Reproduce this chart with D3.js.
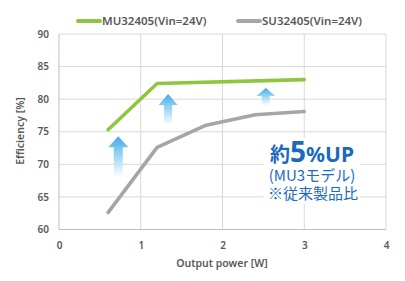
<!DOCTYPE html>
<meta charset="utf-8">
<style>
body { margin:0; background:#fff; font-family:"Noto Sans", sans-serif; }
.tick text { fill:#595959; font-size:10px; font-weight:600; }
.lbl { fill:#595959; font-weight:600; }
</style>
<body>
<script src="https://d3js.org/d3.v7.min.js"></script>
<script>
var xTicks = [0, 1, 2, 3, 4];
var yTicks = [60, 65, 70, 75, 80, 85, 90];
var muPower = [0.6, 1.2, 3];
var muEff = [75.3, 82.4, 83.0];
var suPower = [0.6, 1.2, 1.8, 2.4, 3];
var suEff = [62.6, 72.6, 76.0, 77.6, 78.1];
var seriesNames = ["MU32405(Vin=24V)", "SU32405(Vin=24V)"];
var seriesColors = ["#8dc63f", "#a6a6a6"];
// arrows: [x, from, to] in data units
var arrows = [[0.725, 68.0, 74.3], [1.335, 76.0, 80.8], [2.53, 79.0, 81.7]];

var W = 405, H = 281;
var svg = d3.select("body").append("svg").attr("width", W).attr("height", H);

var x = d3.scaleLinear().domain([0, 4]).range([59, 386]);
var y = d3.scaleLinear().domain([60, 90]).range([229.5, 34]);

// grid
svg.append("g").selectAll("line.h").data(yTicks).join("line")
  .attr("x1", x(0)).attr("x2", x(4))
  .attr("y1", d => y(d)).attr("y2", d => y(d))
  .attr("stroke", "#d9d9d9").attr("stroke-width", 1);
svg.append("g").selectAll("line.v").data(xTicks).join("line")
  .attr("x1", d => x(d)).attr("x2", d => x(d))
  .attr("y1", y(60)).attr("y2", y(90))
  .attr("stroke", d => d === 0 ? "#bfbfbf" : "#d9d9d9").attr("stroke-width", 1);
svg.append("line").attr("x1", x(0)).attr("x2", x(4)).attr("y1", y(60)).attr("y2", y(60))
  .attr("stroke", "#bfbfbf");

// axes (labels only)
var xa = svg.append("g").attr("transform", "translate(0," + (y(60) + 8) + ")")
  .call(d3.axisBottom(x).tickValues(xTicks).tickFormat(d3.format("d")).tickSize(0).tickPadding(4));
xa.select(".domain").remove();
var ya = svg.append("g").attr("transform", "translate(" + (x(0) - 10) + ",0)")
  .call(d3.axisLeft(y).tickValues(yTicks).tickSize(0).tickPadding(0));
ya.select(".domain").remove();
svg.selectAll(".tick text").attr("font-family", "'Noto Sans', sans-serif");

svg.append("text").attr("class", "lbl").attr("x", 222).attr("y", 267)
  .attr("text-anchor", "middle").attr("font-size", 10.5).text("Output power [W]");
svg.append("text").attr("class", "lbl")
  .attr("transform", "translate(24,131) rotate(-90)")
  .attr("text-anchor", "middle").attr("font-size", 10.5).text("Efficiency [%]");

// arrows
var defs = svg.append("defs");
arrows.forEach(function(a, i) {
  var cx = x(a[0]), top = y(a[2]), bot = y(a[1]);
  var len = bot - top;
  var hw = i === 0 ? 10 : 9.5, sw = i === 0 ? 4.5 : 4;
  var hh = Math.min(11, len * 0.45);
  var p = [[cx, top], [cx + hw, top + hh], [cx + sw, top + hh], [cx + sw, bot],
           [cx - sw, bot], [cx - sw, top + hh], [cx - hw, top + hh]];
  var g = defs.append("linearGradient").attr("id", "ag" + i)
    .attr("gradientUnits", "userSpaceOnUse")
    .attr("x1", 0).attr("y1", top).attr("x2", 0).attr("y2", bot);
  g.append("stop").attr("offset", "0%").attr("stop-color", "#3fa9e6");
  g.append("stop").attr("offset", "40%").attr("stop-color", "#8fd0f2");
  g.append("stop").attr("offset", "100%").attr("stop-color", "#ffffff");
  svg.append("path").attr("d", "M" + p.join("L") + "Z").attr("fill", "url(#ag" + i + ")");
});

// lines
var line = d3.line().x(d => x(d[0])).y(d => y(d[1]));
svg.append("path").datum(d3.zip(suPower, suEff)).attr("d", line)
  .attr("fill", "none").attr("stroke", seriesColors[1]).attr("stroke-width", 3.6)
  .attr("stroke-linecap", "round").attr("stroke-linejoin", "round");
svg.append("path").datum(d3.zip(muPower, muEff)).attr("d", line)
  .attr("fill", "none").attr("stroke", seriesColors[0]).attr("stroke-width", 3.6)
  .attr("stroke-linecap", "round").attr("stroke-linejoin", "round");

// legend
var lx = [78, 238];
seriesNames.forEach(function(n, i) {
  svg.append("line").attr("x1", lx[i]).attr("x2", lx[i] + 22).attr("y1", 21).attr("y2", 21)
    .attr("stroke", seriesColors[i]).attr("stroke-width", 4).attr("stroke-linecap", "round");
  svg.append("text").attr("class", "lbl").attr("x", lx[i] + 24).attr("y", 25)
    .attr("font-size", 11.5).text(n);
});

// annotation
var ann = svg.append("g").attr("fill", "#1a6ac0").attr("text-anchor", "middle");
ann.append("rect").attr("x", 264).attr("y", 138).attr("width", 96).attr("height", 66)
  .attr("fill", "#fff");
var t1 = ann.append("text").attr("x", 312).attr("y", 162).attr("font-weight", 700)
  .attr("font-family", "'Noto Sans CJK JP', sans-serif");
t1.append("tspan").attr("font-size", 20).text("約");
t1.append("tspan").attr("font-size", 28).attr("font-family", "'Noto Sans', sans-serif").text("5");
t1.append("tspan").attr("font-size", 21).attr("font-family", "'Noto Sans', sans-serif").text("%UP");
ann.append("text").attr("x", 312).attr("y", 181).attr("font-size", 15)
  .attr("font-family", "'Noto Sans CJK JP', sans-serif").text("(MU3モデル)");
ann.append("text").attr("x", 313).attr("y", 199).attr("font-size", 15)
  .attr("font-family", "'Noto Sans CJK JP', sans-serif").text("※従来製品比");
</script>
</body>
